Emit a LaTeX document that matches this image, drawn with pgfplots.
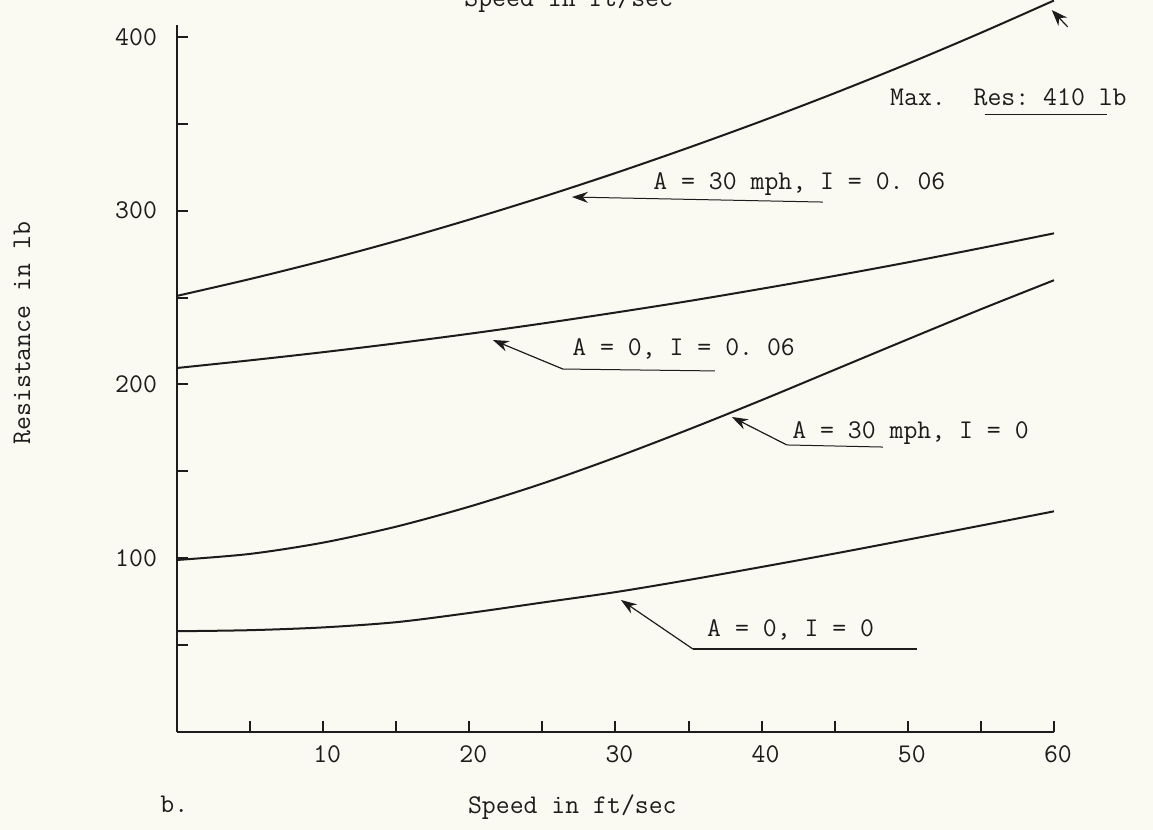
\documentclass[border=0pt]{standalone}
\usepackage{pgfplots}
\pgfplotsset{compat=1.18}
\usetikzlibrary{arrows.meta}
\definecolor{paper}{RGB}{250,250,242}
\definecolor{ink}{RGB}{28,28,28}
\newcommand{\tf}{\fontsize{13.5}{16}\selectfont\ttfamily\frenchspacing}
\begin{document}
\begin{tikzpicture}
\fill[paper] (-88.5pt,-49pt) rectangle (488pt,366pt);
\begin{axis}[
  at={(0,0)}, anchor=south west,
  scale only axis, width=438.5pt, height=353.5pt,
  xmin=0, xmax=60, ymin=0, ymax=406.9,
  axis x line=bottom, axis y line=left,
  axis line style={-, line width=1pt, ink},
  xtick={10,20,30,40,50,60}, xticklabels={10,20,30,40,50,60},
  minor xtick={5,15,25,35,45,55},
  ytick={100,200,300,400}, yticklabels={100,200,300,400},
  minor ytick={50,150,250,350},
  tick align=inside, major tick length=5.5pt, minor tick length=5.5pt,
  tick style={line width=1pt, ink},
  ticklabel style={font=\tf, text=ink},
  xticklabel style={yshift=-3.5pt, xshift=2pt},
  yticklabel style={xshift=-6.5pt},
  xlabel={Speed in ft/sec},
  xlabel style={at={(axis description cs:0.4508,-0.1146)}, anchor=base, font=\tf, text=ink},
  ylabel={Resistance in lb},
  ylabel style={at={(axis description cs:-0.1767,0.564)}, anchor=center, font=\tf, text=ink},
  clip=false,
]
% A = 30 mph, I = 0.06
\addplot[ink, line width=1pt, smooth] coordinates {
 (0,251) (5,260.7) (10,271.2) (15,282.6) (20,294.9) (25,307.9) (30,321.7) (35,336.3) (40,351.6) (45,367.7) (50,384.6) (55,402.4) (60,421)};
% A = 0, I = 0.06
\addplot[ink, line width=1pt, smooth] coordinates {
 (0,209.5) (5,213.9) (10,218.6) (15,223.7) (20,229.2) (25,235.1) (30,241.4) (35,248.0) (40,255.1) (45,262.5) (50,270.3) (55,278.5) (60,287)};
% A = 30 mph, I = 0
\addplot[ink, line width=1pt, smooth] coordinates {
 (0,99) (5,102.5) (10,109.0) (15,118.2) (20,129.7) (25,143.0) (30,158.0) (35,174.1) (40,191.0) (45,208.5) (50,226.0) (55,243.3) (60,260)};
% A = 0, I = 0
\addplot[ink, line width=1pt, smooth] coordinates {
 (0,58) (5,58.6) (10,60.2) (15,63.2) (20,68.5) (25,74.5) (30,80.5) (35,87.5) (40,95) (45,102.7) (50,110.7) (55,118.8) (60,127)};

% annotations
\draw[ink, line width=0.5pt, -{Stealth[length=8pt,width=5.5pt]}] (axis cs:44.19,305.0) -- (axis cs:27.02,307.9);
\node[anchor=base west, font=\tf, text=ink, inner sep=0pt] at (axis cs:32.56,312.5) {A = 30 mph, I = 0. 06};

\draw[ink, line width=0.5pt] (axis cs:36.8,207.8) -- (axis cs:26.4,208.9);
\draw[ink, line width=0.6pt, -{Stealth[length=8pt,width=5.5pt]}] (axis cs:26.4,208.9) -- (axis cs:21.61,225.6);
\node[anchor=base west, font=\tf, text=ink, inner sep=0pt] at (axis cs:27.02,216.4) {A = 0, I = 0. 06};

\draw[ink, line width=0.5pt] (axis cs:48.29,164.0) -- (axis cs:41.72,165.2);
\draw[ink, line width=0.6pt, -{Stealth[length=8pt,width=5.5pt]}] (axis cs:41.72,165.2) -- (axis cs:37.96,181.3);
\node[anchor=base west, font=\tf, text=ink, inner sep=0pt] at (axis cs:42.07,169.2) {A = 30 mph, I = 0};

\draw[ink, line width=0.6pt] (axis cs:50.62,47.8) -- (axis cs:35.29,47.8);
\draw[ink, line width=0.6pt, -{Stealth[length=8pt,width=5.5pt]}] (axis cs:35.29,47.8) -- (axis cs:30.37,76.0);
\node[anchor=base west, font=\tf, text=ink, inner sep=0pt] at (axis cs:36.25,54.7) {A = 0, I = 0};

\node[anchor=base west, font=\tf, text=ink, inner sep=0pt] at (axis cs:48.77,360.3) {Max.\ \ Res: 410 lb};
\draw[ink, line width=0.5pt] (axis cs:55.27,355.1) -- (axis cs:63.61,355.1);
\draw[ink, line width=0.6pt, -{Stealth[length=8pt,width=6pt]}] (axis cs:60.94,405.8) -- (axis cs:59.85,415.5);

\node[anchor=base, font=\tf, text=ink, inner sep=0pt] at (axis cs:26.8,417.8) {Speed in ft/sec};
\node[anchor=base west, font=\tf, text=ink, inner sep=0pt] at (axis cs:-1.16,-46.6) {b.};
\end{axis}
\pgfresetboundingbox
\useasboundingbox (-88.5pt,-49pt) rectangle (488pt,366pt);
\end{tikzpicture}
\end{document}
